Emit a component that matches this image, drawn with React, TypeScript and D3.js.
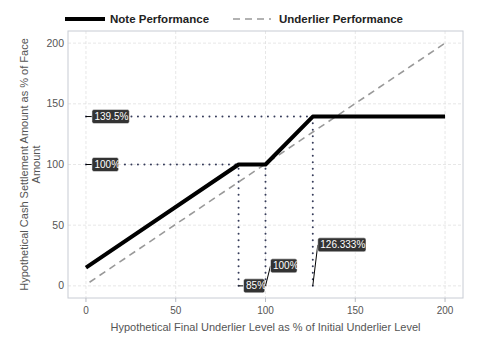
import React from "react";
import * as d3 from "d3";

const noteX = [0, 85, 100, 126.333, 200];
const noteY = [15, 100, 100, 139.5, 139.5];
const underX = [2, 200];
const underY = [3, 200];
const xTicks = [0, 50, 100, 150, 200];
const yTicks = [0, 50, 100, 150, 200];
const hLevels = [139.5, 100];
const hEnds = [126.333, 100];
const hLabels = ["139.5%", "100%"];
const vLevels = [85, 100, 126.333];
const vTops = [100, 100, 139.5];
const vLabels = ["85%", "100%", "126.333%"];
const vLabelDx = [5, 5, 5];
const vLabelDy = [0, -20, -41];

export default function App() {
  const W = 480, H = 360;
  const left = 68, right = 463, top = 31, bottom = 298;
  const x = d3.scaleLinear().domain([-10, 210]).range([left, right]);
  const y = d3.scaleLinear().domain([-10, 210]).range([bottom, top]);
  const line = d3.line<[number, number]>().x(d => x(d[0])).y(d => y(d[1]));
  const notePts = noteX.map((v, i) => [v, noteY[i]] as [number, number]);
  const underPts = underX.map((v, i) => [v, underY[i]] as [number, number]);
  const font = "'Liberation Sans', Arial, sans-serif";
  const grid = "#dcdcdc";
  const dotCol = "#363c5a";
  const textGrey = "#555";
  const charW = 5.4;
  return (
    <svg width={W} height={H} style={{ position: "absolute", left: 0, top: 0 }} fontFamily={font}>
      <rect x={0} y={0} width={W} height={H} fill="#fff" />
      {/* legend */}
      <line x1={65} x2={105} y1={19} y2={19} stroke="#000" strokeWidth={4} />
      <text x={110} y={23} fontSize={11.5} fontWeight="bold" fill="#222">Note Performance</text>
      <line x1={233} x2={271} y1={19} y2={19} stroke="#999" strokeWidth={1.6} strokeDasharray="7,5" />
      <text x={279} y={23} fontSize={11.5} fontWeight="bold" fill="#222">Underlier Performance</text>
      {/* grid */}
      {xTicks.map(t => (
        <line key={"gx" + t} x1={x(t)} x2={x(t)} y1={top} y2={bottom} stroke={grid} strokeWidth={0.7} strokeDasharray="3,2" />
      ))}
      {yTicks.map(t => (
        <line key={"gy" + t} x1={left} x2={right} y1={y(t)} y2={y(t)} stroke={grid} strokeWidth={0.7} strokeDasharray="3,2" />
      ))}
      <rect x={left} y={top} width={right - left} height={bottom - top} fill="none" stroke="#c8ccd4" strokeWidth={1} />
      {/* ticks */}
      {xTicks.map(t => (
        <g key={"tx" + t}>
          <line x1={x(t)} x2={x(t)} y1={bottom} y2={bottom + 4} stroke="#b8bcc4" />
          <text x={x(t)} y={bottom + 15.5} fontSize={10} fill={textGrey} textAnchor="middle">{t}</text>
        </g>
      ))}
      {yTicks.map(t => (
        <text key={"ty" + t} x={left - 4} y={y(t) + 3.5} fontSize={10.5} fill={textGrey} textAnchor="end">{t}</text>
      ))}
      <text x={(left + right) / 2} y={331} fontSize={11} fill={textGrey} textAnchor="middle">
        Hypothetical Final Underlier Level as % of Initial Underlier Level
      </text>
      <g transform={`translate(27.5, ${(top + bottom) / 2}) rotate(-90)`}>
        <text x={0} y={0} fontSize={11} fill={textGrey} textAnchor="middle">Hypothetical Cash Settlement Amount as % of Face</text>
        <text x={0} y={12} fontSize={11} fill={textGrey} textAnchor="middle">Amount</text>
      </g>
      {/* dotted reference lines */}
      {hLevels.map((v, i) => (
        <line key={"h" + i} x1={x(0)} x2={x(hEnds[i])} y1={y(v)} y2={y(v)} stroke={dotCol} strokeWidth={2} strokeDasharray="0,6.5" strokeLinecap="round" />
      ))}
      {vLevels.map((v, i) => (
        <line key={"v" + i} x1={x(v)} x2={x(v)} y1={y(0)} y2={y(vTops[i])} stroke={dotCol} strokeWidth={2} strokeDasharray="0,6.5" strokeLinecap="round" />
      ))}
      {/* lines */}
      <path d={line(underPts) || ""} fill="none" stroke="#999" strokeWidth={1.6} strokeDasharray="7,5" />
      <path d={line(notePts) || ""} fill="none" stroke="#000" strokeWidth={4} strokeLinejoin="round" />
      {/* left labels */}
      {hLevels.map((v, i) => {
        const w = hLabels[i].length * charW + 5;
        const bx = x(0) + 6;
        return (
          <g key={"hl" + i}>
            <line x1={x(0)} x2={bx} y1={y(v)} y2={y(v)} stroke="#000" strokeWidth={1} />
            <rect x={bx} y={y(v) - 7} width={w} height={14} rx={2} fill="#333" stroke="#fff" strokeWidth={0.5} />
            <text x={bx + 2.5} y={y(v) + 3.5} fontSize={10} fill="#fff">{hLabels[i]}</text>
          </g>
        );
      })}
      {/* bottom labels */}
      {vLevels.map((v, i) => {
        const w = vLabels[i].length * charW + 5;
        const px = x(v), py = y(0);
        const bx = px + vLabelDx[i];
        const cy = py + vLabelDy[i];
        return (
          <g key={"vl" + i}>
            <line x1={px} x2={bx} y1={py} y2={cy} stroke="#000" strokeWidth={1} />
            <rect x={bx} y={cy - 7} width={w} height={14} rx={2} fill="#333" stroke="#fff" strokeWidth={0.5} />
            <text x={bx + 2.5} y={cy + 3.5} fontSize={10} fill="#fff">{vLabels[i]}</text>
          </g>
        );
      })}
    </svg>
  );
}
